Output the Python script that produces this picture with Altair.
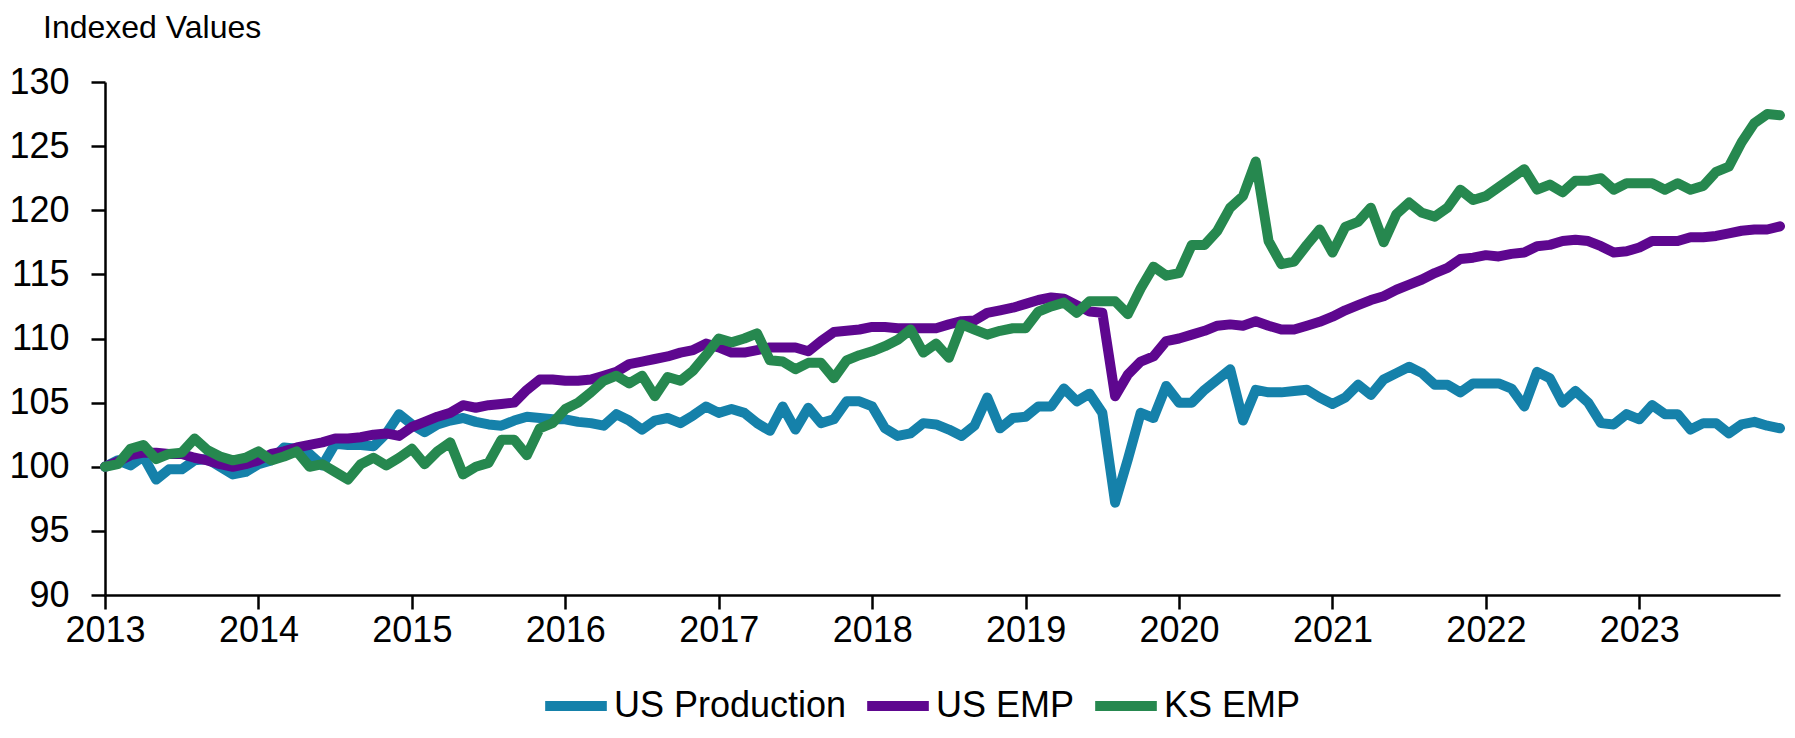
import altair as alt
import pandas as pd

# ---- data (monthly, Jan 2013 .. Dec 2023) ----
us_production = [
    100.0, 100.5, 100.1, 100.8, 99.0, 99.8, 99.8, 100.5, 100.6, 100.0, 99.4, 99.6,
    100.2, 100.5, 101.5, 101.4, 101.0, 100.1, 101.8, 101.7, 101.7, 101.6, 102.6, 104.1,
    103.3, 102.7, 103.3, 103.6, 103.8, 103.5, 103.3, 103.2, 103.6, 103.9, 103.8, 103.7,
    103.7, 103.5, 103.4, 103.2, 104.1, 103.6, 102.9, 103.6, 103.8, 103.4, 104.0, 104.7,
    104.2, 104.5, 104.2, 103.4, 102.8, 104.7, 102.9, 104.6, 103.4, 103.7, 105.1, 105.1,
    104.7, 103.0, 102.4, 102.6, 103.4, 103.3, 102.9, 102.4, 103.2, 105.4, 103.0, 103.8,
    103.9, 104.7, 104.7, 106.1, 105.1, 105.7, 104.2, 97.2, 100.6, 104.2, 103.8, 106.3,
    105.0, 105.0, 106.0, 106.8, 107.6, 103.6, 106.0, 105.8, 105.8, 105.9, 106.0, 105.4,
    104.9, 105.4, 106.4, 105.6, 106.8, 107.3, 107.8, 107.3, 106.4, 106.4, 105.8, 106.5,
    106.5, 106.5, 106.1, 104.7, 107.4, 106.9, 105.0, 105.9, 105.0, 103.4, 103.3, 104.1,
    103.7, 104.8, 104.1, 104.1, 102.9, 103.4, 103.4, 102.6, 103.3, 103.5, 103.2, 103.0,
]
us_emp = [
    100.0, 100.4, 100.9, 101.1, 101.1, 101.0, 101.0, 100.7, 100.5, 100.2, 100.0, 100.2,
    100.5, 101.0, 101.2, 101.5, 101.7, 101.9, 102.2, 102.2, 102.3, 102.5, 102.6, 102.4,
    103.1, 103.5, 103.9, 104.2, 104.8, 104.6, 104.8, 104.9, 105.0, 106.0, 106.8, 106.8,
    106.7, 106.7, 106.8, 107.1, 107.4, 108.0, 108.2, 108.4, 108.6, 108.9, 109.1, 109.6,
    109.3, 108.9, 108.9, 109.1, 109.3, 109.3, 109.3, 109.0, 109.8, 110.5, 110.6, 110.7,
    110.9, 110.9, 110.8, 110.8, 110.8, 110.8, 111.1, 111.35, 111.4, 112.0, 112.2, 112.4,
    112.7, 113.0, 113.2, 113.1, 112.6, 112.1, 112.0, 105.5, 107.2, 108.2, 108.6, 109.8,
    110.0, 110.3, 110.6, 111.0, 111.1, 111.0, 111.35, 111.0, 110.7, 110.7, 111.0, 111.3,
    111.7, 112.2, 112.6, 113.0, 113.3, 113.8, 114.2, 114.6, 115.1, 115.5, 116.2, 116.3,
    116.5, 116.4, 116.6, 116.7, 117.2, 117.3, 117.6, 117.7, 117.6, 117.2, 116.7, 116.8,
    117.1, 117.6, 117.6, 117.6, 117.9, 117.9, 118.0, 118.2, 118.4, 118.5, 118.5, 118.75,
]
ks_emp = [
    100.0, 100.2, 101.4, 101.7, 100.6, 101.0, 101.1, 102.2, 101.3, 100.8, 100.5, 100.7,
    101.2, 100.5, 100.8, 101.2, 100.0, 100.2, 99.6, 99.0, 100.2, 100.7, 100.1, 100.7,
    101.4, 100.2, 101.2, 101.9, 99.4, 100.0, 100.3, 102.1, 102.1, 100.9, 103.0, 103.4,
    104.5, 105.0, 105.8, 106.7, 107.1, 106.5, 107.1, 105.5, 107.0, 106.7, 107.5, 108.7,
    110.0, 109.7, 110.0, 110.4, 108.3, 108.2, 107.6, 108.1, 108.1, 106.9, 108.3, 108.7,
    109.0, 109.4, 109.9, 110.7, 108.9, 109.6, 108.5, 111.1, 110.7, 110.3, 110.6, 110.8,
    110.8, 112.1, 112.5, 112.8, 112.0, 112.9, 112.9, 112.9, 111.9, 113.9, 115.6, 114.9,
    115.1, 117.3, 117.3, 118.4, 120.2, 121.1, 123.8, 117.6, 115.8, 116.0, 117.3, 118.5,
    116.7, 118.7, 119.1, 120.2, 117.5, 119.7, 120.6, 119.8, 119.5, 120.2, 121.6, 120.8,
    121.1, 121.8, 122.5, 123.2, 121.6, 122.0, 121.4, 122.3, 122.3, 122.5, 121.6, 122.1,
    122.1, 122.1, 121.6, 122.1, 121.6, 121.9, 123.0, 123.4, 125.3, 126.8, 127.5, 127.4,
]

series_names = ["US Production", "US EMP", "KS EMP"]
series_colors = ["#1581AA", "#5E078F", "#26884F"]
year_labels = [str(y) for y in range(2013, 2024)]
y_ticks = [90, 95, 100, 105, 110, 115, 120, 125, 130]

rows = []
for name, vals in zip(series_names, [us_production, us_emp, ks_emp]):
    for i, v in enumerate(vals):
        rows.append({"t": i, "value": v, "series": name})
df = pd.DataFrame(rows)

FONT = "Liberation Sans, Arial, sans-serif"
n_months = len(us_production)
x_tick_values = [12 * k for k in range(len(year_labels))]
label_map = "{" + ",".join(f"'{v}':'{lab}'" for v, lab in zip(x_tick_values, year_labels)) + "}"

x_enc = alt.X(
    "t:Q",
    scale=alt.Scale(domain=[0, n_months - 1], nice=False, zero=False),
    axis=alt.Axis(
        values=x_tick_values,
        labelExpr=label_map + "[toString(datum.value)]",
        title=None,
        grid=False,
        labelFlush=False,
        labelPadding=4,
        labelFontSize=36,
    ),
)
y_enc = alt.Y(
    "value:Q",
    scale=alt.Scale(domain=[90, 130], nice=False, zero=False),
    axis=alt.Axis(values=y_ticks, title=None, grid=False, labelPadding=22, labelFontSize=36),
)
color_enc = alt.Color(
    "series:N",
    scale=alt.Scale(domain=series_names, range=series_colors),
    legend=alt.Legend(
        title=None,
        orient="none",
        direction="horizontal",
        legendX=435,
        legendY=588,
        symbolType="stroke",
        symbolStrokeWidth=10,
        symbolSize=3800,
        labelFontSize=36,
        labelFont=FONT,
        labelColor="black",
        labelOffset=2,
        labelLimit=0,
        columnPadding=0,
    ),
)

layers = []
for name in series_names:
    layers.append(
        alt.Chart(df)
        .transform_filter(alt.datum.series == name)
        .mark_line(strokeWidth=10, strokeCap="round", strokeJoin="round")
        .encode(x=x_enc, y=y_enc, color=color_enc)
    )

chart = (
    alt.layer(*layers)
    .properties(
        width=1675,
        height=513,
        background="white",
        autosize=alt.AutoSizeParams(type="none"),
        padding={"left": 97, "top": 74, "right": 5, "bottom": 132},
        title=alt.TitleParams(
            "Indexed Values",
            anchor="start",
            frame="group",
            dx=-62,
            offset=19,
            fontSize=32,
            font=FONT,
            fontWeight="normal",
            color="black",
        ),
    )
    .configure_view(stroke=None)
    .configure_axis(
        domainColor="black",
        domainWidth=2.5,
        tickColor="black",
        tickWidth=2.5,
        tickSize=14,
        labelFontSize=36,
        labelFont=FONT,
        labelColor="black",
    )
)

chart.save("out.html", embed_options={"renderer": "svg", "actions": False})
